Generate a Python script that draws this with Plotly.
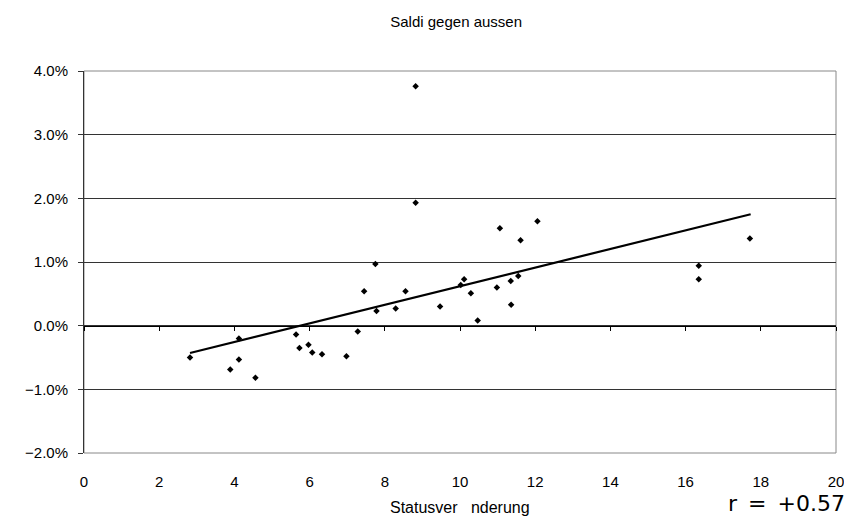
import plotly.graph_objects as go

# Data
status_change = [2.82, 3.89, 4.12, 4.12, 4.56, 5.64, 5.73, 5.97, 6.07, 6.33, 6.98, 7.28,
                 7.45, 7.75, 7.78, 8.29, 8.55, 8.82, 8.82, 9.47, 10.02, 10.11, 10.29,
                 10.47, 10.98, 11.06, 11.35, 11.36, 11.55, 11.61, 12.06, 16.35, 16.35, 17.71]
saldi_pct = [-0.50, -0.69, -0.53, -0.20, -0.82, -0.14, -0.35, -0.30, -0.42, -0.45, -0.48, -0.09,
             0.54, 0.97, 0.23, 0.27, 0.54, 3.76, 1.93, 0.30, 0.64, 0.73, 0.51,
             0.08, 0.60, 1.53, 0.70, 0.33, 0.78, 1.34, 1.64, 0.94, 0.73, 1.37]
trend_x = [2.82, 17.73]
trend_pct = [-0.43, 1.75]
x_ticks = [0, 2, 4, 6, 8, 10, 12, 14, 16, 18, 20]
y_ticks_pct = [-2, -1, 0, 1, 2, 3, 4]

title_text = "Saldi gegen aussen"
x_title = "Statusver\u00a0\u00a0\u00a0nderung"
r_text = "r\u2002=\u2002+0.57"

FONT = "Liberation Sans, Arial, sans-serif"

fig = go.Figure()
fig.add_trace(go.Scatter(
    x=status_change, y=[v / 100 for v in saldi_pct], mode="markers",
    marker=dict(symbol="diamond", size=5, color="black"),
    showlegend=False, hoverinfo="skip"))
fig.add_trace(go.Scatter(
    x=trend_x, y=[v / 100 for v in trend_pct], mode="lines",
    line=dict(color="black", width=2.2),
    showlegend=False, hoverinfo="skip"))
# invisible trace to keep the zero-crossing axis alive
fig.add_trace(go.Scatter(x=[x_ticks[0]], y=[0], xaxis="x2", mode="markers",
                         marker=dict(size=0.1, opacity=0), showlegend=False, hoverinfo="skip"))

fig.update_layout(
    width=852, height=518,
    margin=dict(l=76, r=24, t=63, b=73),
    paper_bgcolor="white", plot_bgcolor="white",
    font=dict(family=FONT, size=15, color="black"),
    title=dict(text=title_text, x=0.526, xanchor="center", y=0.973, yanchor="middle",
               font=dict(family=FONT, size=15, color="black")),
    xaxis=dict(range=[0, 20], tickvals=x_ticks, ticktext=[str(t) for t in x_ticks],
               showgrid=False, zeroline=False, showline=False,
               ticks="outside", ticklen=15, tickcolor="rgba(0,0,0,0)",
               tickfont=dict(family=FONT, size=15, color="black")),
    xaxis2=dict(range=[0, 20], overlaying="x", anchor="free", position=1/3,
                tickvals=x_ticks, showticklabels=False, showgrid=False, zeroline=False,
                showline=True, linecolor="black", linewidth=1,
                ticks="outside", ticklen=4, tickcolor="black", tickwidth=1),
    yaxis=dict(range=[-0.02, 0.04], tickvals=[v / 100 for v in y_ticks_pct], tickformat=".1%",
               showgrid=True, gridcolor="#333333", gridwidth=1,
               zeroline=False, showline=True, linecolor="#333333", linewidth=1,
               ticks="outside", ticklen=5, tickcolor="#333333", ticklabelstandoff=7,
               tickfont=dict(family=FONT, size=15, color="black")),
    shapes=[dict(type="rect", xref="paper", yref="paper", x0=0, x1=1, y0=0, y1=1,
                 line=dict(color="#888888", width=1), layer="below")],
    annotations=[
        dict(text=x_title, xref="paper", yref="paper", x=0.5, y=0, xanchor="center",
             yanchor="middle", yshift=-54, showarrow=False,
             font=dict(family=FONT, size=16, color="black")),
        dict(text=r_text, xref="paper", yref="paper", x=1.013, y=0, xanchor="right",
             yanchor="middle", yshift=-50, showarrow=False, borderpad=0,
             font=dict(family="DejaVu Sans", size=22, color="black")),
    ],
)

fig.write_html("out.html")
